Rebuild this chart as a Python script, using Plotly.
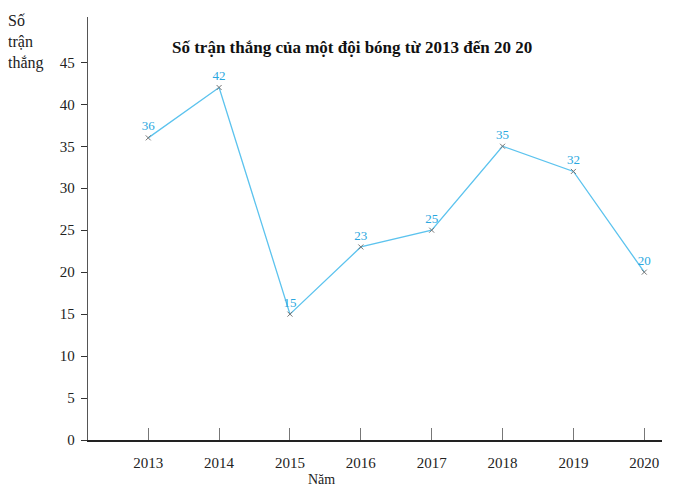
"""
Line chart - So tran thang cua mot doi bong (2013-2020)
"""
import plotly.graph_objects as go

years = [2013, 2014, 2015, 2016, 2017, 2018, 2019, 2020]
wins = [36, 42, 15, 23, 25, 35, 32, 20]
y_ticks = [0, 5, 10, 15, 20, 25, 30, 35, 40, 45]

SERIF = "Liberation Serif, Times New Roman, serif"
LINE_BLUE = "#5cc3ee"
LABEL_BLUE = "#2aa7e0"

fig = go.Figure()

fig.add_trace(go.Scatter(
    x=years,
    y=wins,
    mode="lines+markers+text",
    line=dict(color=LINE_BLUE, width=1.3),
    marker=dict(symbol="x-thin", size=5, line=dict(color="#777777", width=1)),
    text=[str(v) for v in wins],
    textposition="top center",
    textfont=dict(family=SERIF, size=13, color=LABEL_BLUE),
    showlegend=False,
    cliponaxis=False,
))

# page body adds ~8px, so the figure is a bit smaller than the window
fig.update_layout(
    width=672,
    height=487,
    paper_bgcolor="white",
    plot_bgcolor="white",
    margin=dict(l=80, r=18, t=9, b=55),
    font=dict(family=SERIF, color="#222222"),
    title=dict(
        text="<b>Số trận thắng của một đội bóng từ 2013 đến 20 20</b>",
        x=0.512, xanchor="center",
        y=0.92, yanchor="middle",
        font=dict(family=SERIF, size=17, color="#111111"),
    ),
)

fig.update_xaxes(
    range=[2012.15, 2020.25],
    tickvals=years,
    ticktext=[str(y) for y in years],
    ticks="inside",
    ticklen=12,
    tickwidth=1.2,
    tickcolor="#777777",
    tickfont=dict(family=SERIF, size=15, color="#222222"),
    ticklabelstandoff=8,
    showline=True,
    linecolor="#222222",
    linewidth=1.5,
    showgrid=False,
    zeroline=False,
)

fig.update_yaxes(
    range=[0, 50.4],
    tickvals=y_ticks,
    ticks="outside",
    ticklen=6,
    tickwidth=1.2,
    tickcolor="#333333",
    tickfont=dict(family=SERIF, size=15, color="#222222"),
    ticklabelstandoff=3,
    showline=True,
    linecolor="#555555",
    linewidth=1.3,
    showgrid=False,
    zeroline=False,
)

# axis titles placed like the textbook figure
fig.add_annotation(
    text="Số<br>trận<br>thắng",
    xref="paper", yref="paper",
    x=-0.142, y=1.017, xanchor="left", yanchor="top",
    align="left", showarrow=False,
    font=dict(family=SERIF, size=16, color="#222222"),
)
fig.add_annotation(
    text="Năm",
    xref="paper", yref="paper",
    x=0.407, y=-0.072, xanchor="center", yanchor="top",
    showarrow=False,
    font=dict(family=SERIF, size=14, color="#222222"),
)

fig.write_html("out.html")
